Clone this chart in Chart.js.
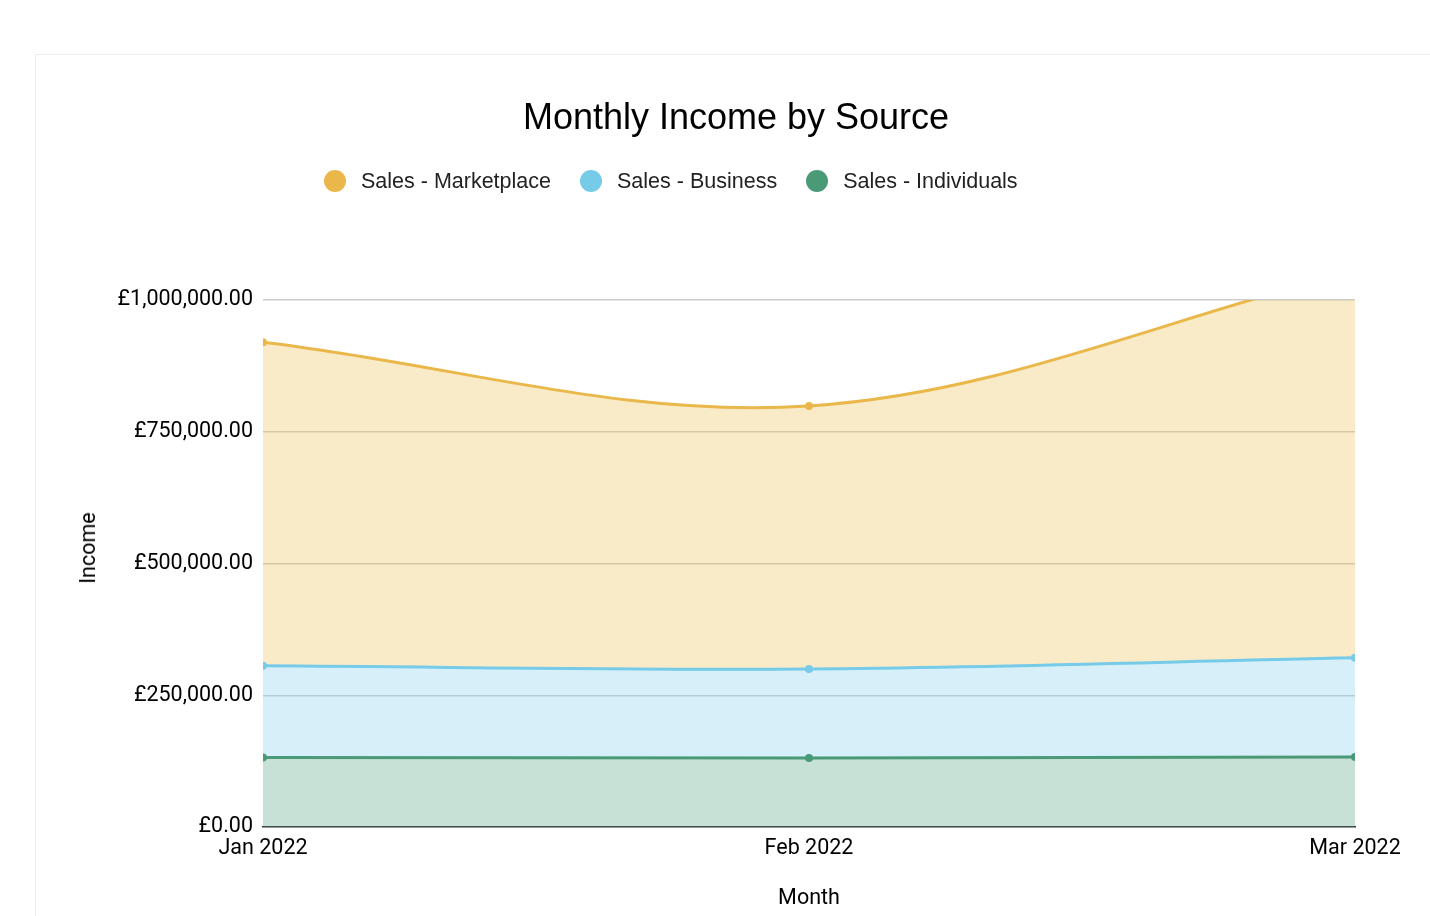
<!DOCTYPE html>
<html>
<head>
<meta charset="utf-8">
<script src="https://cdn.jsdelivr.net/npm/chart.js@4.4.1/dist/chart.umd.min.js"></script>
<style>
  html, body { margin: 0; padding: 0; background: #fff; }
  body { width: 1430px; height: 916px; position: relative; overflow: hidden; }
  #card { position: absolute; left: 35px; top: 54px; width: 1500px; height: 1000px;
          border: 1px solid #ececec; box-sizing: border-box; }
  #wrap { position: absolute; left: 0; top: 0; width: 1430px; height: 916px; }
  #title { position: absolute; left: 0; top: 97px; width: 1472px; text-align: center;
           font-family: "Liberation Sans", Arial, sans-serif; font-size: 36px; line-height: 40px; color: #000; }
  #legend { position: absolute; top: 168px; left: 324px; display: flex; gap: 29px;
            font-family: "Liberation Sans", Arial, sans-serif; font-size: 21.5px; line-height: 26px; color: #222; }
  #legend .item { display: flex; align-items: center; }
  #legend .dot { width: 22px; height: 22px; border-radius: 50%; margin-right: 15px; }
  #ytitle { position: absolute; left: 88px; top: 548px; transform: translate(-50%, -50%) rotate(-90deg);
            font-family: Roboto, "Liberation Sans", sans-serif; font-size: 21.5px; line-height: 26px; color: #000; }
</style>
</head>
<body>
<div id="card"></div>
<div id="wrap"><canvas id="chart" width="1430" height="916"></canvas></div>
<div id="title">Monthly Income by Source</div>
<div id="legend"></div>
<div id="ytitle">Income</div>
<script>
const months = ['Jan 2022', 'Feb 2022', 'Mar 2022'];
const individuals = [132000, 131000, 133000];
const business = [174000, 169000, 188000];
const marketplace = [614000, 499000, 734000];
const yTicks = [0, 250000, 500000, 750000, 1000000];

const colors = {
  marketplace: '#eab84a',
  business: '#76cbe8',
  individuals: '#4a9a78'
};

function fmt(v) {
  return '£' + v.toLocaleString('en-GB', { minimumFractionDigits: 2, maximumFractionDigits: 2 });
}

function alpha(hex, a) {
  const n = parseInt(hex.slice(1), 16);
  return `rgba(${n >> 16}, ${(n >> 8) & 255}, ${n & 255}, ${a})`;
}

function serie(label, data, color, fill) {
  return {
    label: label,
    data: data,
    borderColor: color,
    backgroundColor: alpha(color, 0.3),
    pointBackgroundColor: color,
    pointBorderColor: color,
    pointRadius: 2.5,
    borderWidth: 3,
    tension: 0.35,
    fill: fill,
    clip: 0
  };
}

const datasets = [
  serie('Sales - Individuals', individuals, colors.individuals, 'origin'),
  serie('Sales - Business', business, colors.business, '-1'),
  serie('Sales - Marketplace', marketplace, colors.marketplace, '-1')
];

// Legend (same order as the original: top series first)
const legend = document.getElementById('legend');
datasets.slice().reverse().forEach(ds => {
  const item = document.createElement('div');
  item.className = 'item';
  item.innerHTML = `<span class="dot" style="background:${ds.borderColor}"></span>${ds.label}`;
  legend.appendChild(item);
});

const axisFont = { family: 'Roboto, "Liberation Sans", sans-serif', size: 21.5 };

new Chart(document.getElementById('chart'), {
  type: 'line',
  data: { labels: months, datasets: datasets },
  options: {
    responsive: false,
    animation: false,
    layout: { padding: { left: 75, right: 75, top: 300, bottom: 4 } },
    plugins: {
      legend: { display: false },
      tooltip: { enabled: false },
      title: { display: false }
    },
    scales: {
      x: {
        grid: { display: false, drawTicks: false },
        border: { display: true, color: '#333', width: 1.5 },
        ticks: { color: '#000', font: axisFont, padding: 9, maxRotation: 0 },
        title: { display: true, text: 'Month', color: '#000', font: axisFont, padding: { top: 0, bottom: 0 } },
        afterFit: s => { s.height = 85; }
      },
      y: {
        stacked: true,
        min: 0,
        max: 1000000,
        afterBuildTicks: s => { s.ticks = yTicks.map(v => ({ value: v })); },
        grid: {
          color: c => c.tick && c.tick.value === 0 ? 'rgba(0,0,0,0)' : '#cccccc',
          lineWidth: 1.5,
          drawTicks: false
        },
        border: { display: false },
        ticks: { color: '#000', font: axisFont, padding: 10, callback: v => fmt(v) },
        // axis title is the #ytitle div (sits a bit above the plot centre in the original)
        title: { display: false },
        afterFit: s => { s.width = 188; }
      }
    }
  }
});
</script>
</body>
</html>
